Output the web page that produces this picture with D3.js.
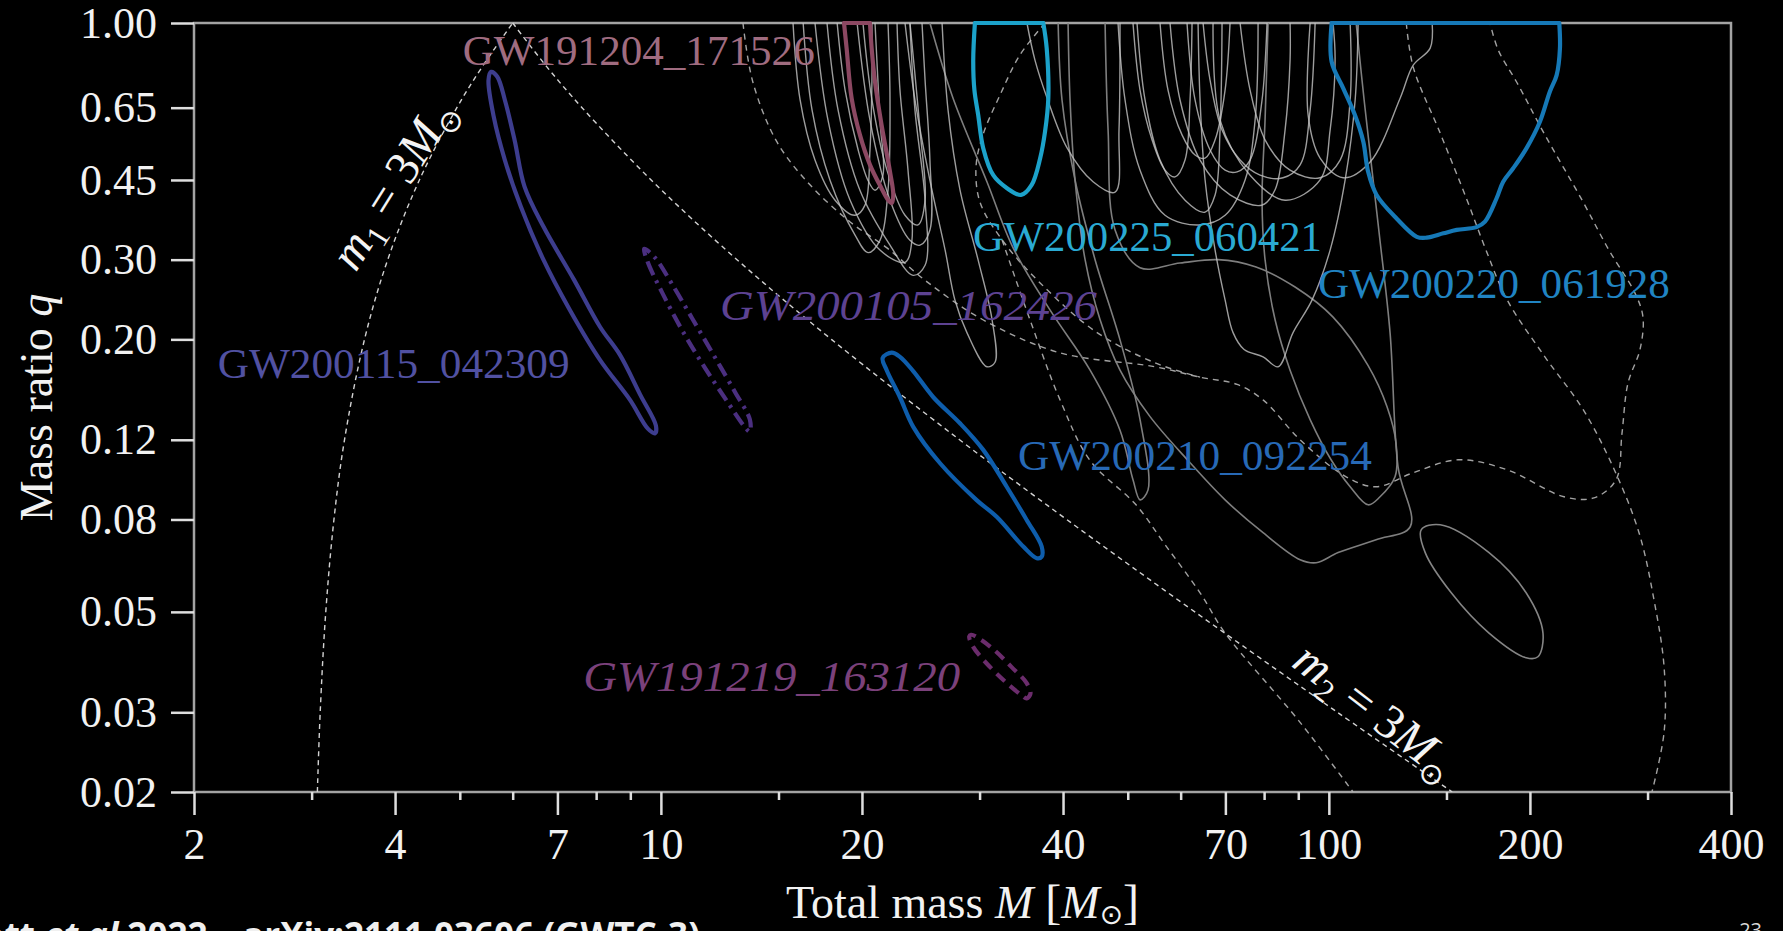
<!DOCTYPE html>
<html>
<head>
<meta charset="utf-8">
<script src="https://cdn.jsdelivr.net/npm/d3@7"></script>
<style>
  html, body { margin: 0; padding: 0; background: #000; overflow: hidden; }
  svg { display: block; }
</style>
</head>
<body>
<script>
const WIDTH = 1783, HEIGHT = 931;
const LEFT = 194, RIGHT = 1731, TOP = 23, BOTTOM = 792;
const SERIF = '"Liberation Serif", "DejaVu Serif", serif';

// axis ticks
const xTicks = [2, 4, 7, 10, 20, 40, 70, 100, 200, 400];
const xMinorTicks = [3, 5, 6, 8, 9, 15, 30, 50, 60, 80, 90, 150, 300];
const yTicks = [1.00, 0.65, 0.45, 0.30, 0.20, 0.12, 0.08, 0.05, 0.03, 0.02];

// m1 = 3 Msun and m2 = 3 Msun boundaries  [M, q]
const m1Line = [[3.06,0.02],[3.09,0.03],[3.15,0.05],[3.24,0.08],[3.36,0.12],[3.6,0.2],[3.9,0.3],[4.35,0.45],[4.95,0.65],[5.4,0.8],[6,1]];
const m2Line = [[6,1],[6.75,0.8],[7.62,0.65],[9.67,0.45],[13,0.3],[18,0.2],[28,0.12],[40.5,0.08],[63,0.05],[103,0.03],[153,0.02]];

// highlighted events, 90% contours  [M, q]
const gw200115 = [[5.57,0.780],[5.52,0.748],[5.62,0.621],[5.84,0.498],[6.17,0.393],[6.67,0.300],[7.31,0.232],[8.11,0.180],[8.99,0.147],[9.56,0.127],[9.80,0.124],[9.83,0.129],[9.31,0.151],[8.68,0.185],[8.11,0.213],[7.41,0.271],[6.67,0.355],[6.25,0.435],[6.04,0.551],[5.84,0.676],[5.69,0.761]];
const gw200105 = [[9.44,0.317],[9.56,0.296],[10.04,0.254],[10.75,0.210],[11.64,0.173],[12.60,0.145],[13.36,0.128],[13.59,0.125],[13.59,0.133],[12.91,0.153],[12.01,0.184],[11.13,0.223],[10.39,0.265],[9.80,0.303]];
const gw191219 = [[28.95,0.0441],[29.33,0.0419],[30.72,0.0385],[32.82,0.0350],[34.60,0.0328],[35.29,0.0322],[35.75,0.0330],[35.29,0.0348],[33.48,0.0378],[31.54,0.0412],[29.92,0.0437],[29.14,0.0445]];
const gw200210 = [[21.48,0.182],[21.78,0.171],[22.80,0.149],[23.88,0.128],[26.18,0.1065],[29.70,0.0883],[31.82,0.0811],[34.88,0.0697],[36.53,0.0657],[37.16,0.0662],[37.16,0.0697],[35.29,0.0798],[32.94,0.0945],[30.38,0.114],[28.04,0.1305],[25.58,0.149],[23.88,0.170],[22.80,0.183],[22.16,0.187]];
const gw191204 = [[18.80,1.0],[18.97,0.879],[19.30,0.682],[19.86,0.566],[20.56,0.486],[21.40,0.431],[21.90,0.406],[22.16,0.400],[22.28,0.417],[22.03,0.469],[21.40,0.595],[20.92,0.742],[20.68,0.879],[20.56,1.0]];
const gw200225 = [[29.52,1.0],[29.35,0.828],[29.47,0.711],[29.86,0.626],[30.38,0.529],[31.45,0.461],[32.94,0.432],[34.60,0.417],[35.90,0.439],[36.96,0.502],[37.59,0.575],[38.02,0.682],[37.81,0.879],[37.37,1.0]];
const gw200220 = [[100.97,1.0],[100.97,0.821],[105.1,0.717],[109.4,0.626],[112.6,0.547],[114.5,0.469],[117.9,0.417],[126.3,0.370],[135.4,0.337],[140.1,0.3355],[148.4,0.343],[155.4,0.349],[166.4,0.354],[171.3,0.364],[178.3,0.410],[182.4,0.446],[188.8,0.4775],[197.7,0.529],[207.0,0.605],[214.2,0.705],[219.3,0.767],[221.8,0.879],[221.3,1.0]];

// other GWTC-3 events (light grey, open at q = 1)
const greyLight = [
  [[15.77,1],[16.16,0.676],[17.01,0.498],[18.23,0.406],[19.53,0.376],[20.21,0.396],[20.56,0.524],[20.70,0.748],[20.70,1]],
  [[16.33,1],[16.84,0.642],[17.92,0.449],[19.53,0.340],[20.42,0.311],[21.28,0.331],[21.88,0.427],[22.03,0.676],[21.88,1]],
  [[17.01,1],[17.79,0.610],[19.20,0.406],[21.28,0.315],[23.20,0.296],[23.76,0.331],[23.44,0.473],[22.80,0.711],[22.57,1]],
  [[17.73,1],[18.42,0.642],[19.86,0.427],[22.03,0.323],[23.85,0.277],[24.86,0.2915],[24.86,0.406],[24.01,0.642],[23.60,1]],
  [[18.36,1],[18.87,0.711],[19.74,0.524],[20.42,0.449],[20.92,0.427],[21.50,0.461],[21.28,0.610],[20.92,1]],
  [[19.67,1],[20.56,0.610],[22.03,0.406],[23.60,0.331],[24.43,0.323],[25.28,0.349],[25.28,0.498],[24.86,0.748],[24.60,1]],
  [[20.07,1],[20.70,0.676],[21.80,0.473],[23.20,0.376],[24.26,0.358],[24.86,0.406],[24.43,0.580],[23.60,1]],
  [[23.20,1],[24.01,0.676],[25.28,0.449],[26.64,0.315],[27.56,0.244],[28.72,0.207],[30.77,0.174],[31.64,0.178],[31.32,0.221],[29.84,0.300],[28.04,0.428],[26.91,0.642],[26.36,1]],
  [[35.32,1],[36.31,0.828],[37.86,0.683],[40.56,0.530],[44.36,0.446],[47.86,0.423],[48.51,0.580],[48.68,1]],
  [[50.91,1],[52.16,0.711],[54.36,0.552],[56.85,0.473],[58.85,0.457],[60.91,0.498],[61.97,0.676],[62.40,1]],
  [[51.62,1],[53.07,0.676],[55.88,0.498],[60.91,0.406],[65.27,0.382],[67.56,0.417],[68.73,0.580],[69.20,1]],
  [[55.88,1],[57.44,0.711],[60.28,0.566],[63.05,0.511],[65.27,0.503],[67.56,0.552],[69.93,0.711],[71.14,1]],
  [[57.84,1],[59.87,0.676],[64.15,0.498],[71.14,0.417],[79.43,0.396],[83.08,0.428],[85.99,0.580],[87.49,0.828],[87.49,1]],
  [[61.33,1],[63.05,0.676],[66.40,0.524],[69.93,0.473],[72.88,0.469],[76.22,0.498],[79.43,0.676],[80.81,1]],
  [[64.82,1],[66.40,0.748],[69.20,0.580],[73.64,0.498],[78.89,0.461],[85.40,0.455],[90.57,0.486],[93.75,0.642],[95.38,1]],
  [[67.09,1],[68.73,0.610],[76.22,0.461],[85.99,0.406],[97.03,0.450],[100.44,0.580],[102.18,0.828],[101.47,1]],
  [[73.64,1],[76.22,0.711],[80.26,0.552],[87.49,0.473],[97.03,0.455],[103.97,0.498],[107.62,0.676],[107.62,1]],
  [[93.75,1],[93.11,0.626],[97.03,0.503],[105.05,0.455],[115.29,0.493],[127.9,0.683],[133.76,0.807],[141.81,0.880],[142.78,1]],
  [[48.35,1],[49.53,0.676],[52.16,0.473],[56.85,0.376],[64.15,0.358],[69.93,0.376],[74.92,0.450],[77.55,0.610],[78.35,1]],
  [[63.71,1],[64.15,0.676],[65.27,0.450],[67.56,0.315],[69.93,0.2445],[71.88,0.207],[74.66,0.190],[79.71,0.183],[83.94,0.174],[88.39,0.207],[94.39,0.2445],[100.44,0.315],[105.78,0.450],[109.49,0.676],[110.62,1]]
];

// other events reaching lower q (darker grey)
const greyDark = [
  [[25.28,1],[27.37,0.683],[30.77,0.446],[33.66,0.319],[38.26,0.232],[43.91,0.171],[48.68,0.126],[50.91,0.0979],[52.16,0.0884],[53.62,0.0930],[52.16,0.133],[48.68,0.1995],[44.67,0.300],[41.69,0.450],[39.86,0.676],[39.33,1]],
  [[40.70,1],[40.98,0.676],[41.69,0.450],[43.16,0.300],[45.45,0.221],[48.68,0.171],[53.99,0.135],[61.55,0.108],[69.93,0.0884],[79.71,0.0748],[90.57,0.0652],[95.71,0.0642],[103.24,0.0676],[117.70,0.0722],[132.39,0.0771],[126.94,0.1046],[123.49,0.207],[118.92,0.344],[112.93,0.676],[109.87,1]],
  [[46.24,1],[46.72,0.580],[47.86,0.349],[52.16,0.288],[59.87,0.295],[68.26,0.300],[77.81,0.289],[89.01,0.261],[101.47,0.224],[114.50,0.175],[122.21,0.142],[126.06,0.118],[125.62,0.0994],[119.3,0.0898],[114.50,0.0862],[107.62,0.0945],[100.78,0.1084],[93.75,0.133],[87.49,0.171],[83.08,0.221],[80.26,0.300],[79.43,0.4065],[80.26,0.6105],[81.10,1]]
];
const greyEllipse = [[137.48,0.0759],[146.8,0.0779],[173.7,0.0676],[197.4,0.0551],[209.2,0.0449],[205.6,0.0398],[197.4,0.0396],[173.7,0.0449],[152.5,0.0551],[139.4,0.0676]];

// events drawn dashed in the original (grey)
const greyDashed = [
  [[13.27,1],[13.73,0.7405],[14.92,0.546],[16.72,0.439],[19.20,0.3635],[21.80,0.3185],[25.03,0.268],[30.35,0.221],[39.45,0.187],[54.93,0.174],[64.15,0.165],[72.88,0.159],[79.71,0.147],[90.57,0.120],[106.14,0.0994],[117.70,0.0945],[133.76,0.1015],[156.2,0.1084],[184.9,0.103],[224.9,0.0898],[249.4,0.0893],[269.1,0.0979],[274.7,0.124],[280.4,0.160],[292.3,0.190],[295.3,0.224],[287.3,0.253],[262.6,0.315],[239.3,0.4065],[209.9,0.571],[191.4,0.737],[179.3,0.8715],[174.3,1]],
  [[37.60,1],[34.48,0.850],[32.19,0.693],[30.35,0.566],[29.64,0.483],[30.04,0.402],[32.41,0.332],[36.96,0.2665],[44.98,0.207],[54.93,0.1775],[64.15,0.165]],
  [[130.6,1],[133.76,0.799],[146.8,0.571],[161.0,0.4065],[171.9,0.315],[184.9,0.2445],[210.6,0.183],[240.2,0.140],[266.3,0.1046],[291.3,0.0748],[306.7,0.0532],[317.6,0.0378],[317.6,0.0271],[304.6,0.02]],
  [[32.41,0.332],[35.69,0.221],[39.59,0.147],[43.91,0.108],[51.44,0.0862],[56.85,0.0704],[64.15,0.0551],[69.93,0.0449],[90.57,0.0285],[108.7,0.02]]
];

// event labels, anchored at the start of the text  [name, M, q]
const labelNames = ["GW191204_171526", "GW200115_042309", "GW200105_162426", "GW200225_060421", "GW200220_061928", "GW200210_092254", "GW191219_163120"];
const labelM = [5.05, 2.17, 12.26, 29.32, 96.3, 34.24, 7.65];
const labelQ = [0.808, 0.1643, 0.2208, 0.3135, 0.2469, 0.1029, 0.0334];

const svg = d3.select('body').append('svg')
  .attr('width', WIDTH).attr('height', HEIGHT)
  .style('background', '#000');

const x = d3.scaleLog().domain([2, 400]).range([LEFT, RIGHT]);
const y = d3.scaleLog().domain([0.02, 1]).range([BOTTOM, TOP]);

svg.append('clipPath').attr('id', 'plotclip')
  .append('rect').attr('x', LEFT).attr('y', TOP - 2)
  .attr('width', RIGHT - LEFT).attr('height', BOTTOM - TOP + 2);

// frame
svg.append('rect')
  .attr('x', LEFT).attr('y', TOP).attr('width', RIGHT - LEFT).attr('height', BOTTOM - TOP)
  .attr('fill', 'none').attr('stroke', '#a3a3a3').attr('stroke-width', 2.5);

// axes
var styleAxis = function(g) {
  g.select('.domain').remove();
  g.selectAll('.tick line').attr('stroke', '#dedede').attr('stroke-width', 2.5);
  g.selectAll('.tick text').attr('fill', '#f2f2f2')
    .style('font-family', SERIF).style('font-size', '44px');
};

svg.append('g').attr('transform', 'translate(0,' + BOTTOM + ')')
  .call(d3.axisBottom(x).tickValues(xMinorTicks).tickSize(8).tickFormat(''))
  .call(styleAxis);
svg.append('g').attr('transform', 'translate(0,' + BOTTOM + ')')
  .call(d3.axisBottom(x).tickValues(xTicks).tickSize(23).tickPadding(13).tickFormat(d3.format('d')))
  .call(styleAxis);
svg.append('g').attr('transform', 'translate(' + LEFT + ',0)')
  .call(d3.axisLeft(y).tickValues(yTicks).tickSize(23).tickPadding(14).tickFormat(d3.format('.2f')))
  .call(styleAxis);

// contours
const plot = svg.append('g').attr('clip-path', 'url(#plotclip)');
const openLine = d3.line().x(d => x(d[0])).y(d => y(d[1])).curve(d3.curveCatmullRom.alpha(0.5));
const closedLine = d3.line().x(d => x(d[0])).y(d => y(d[1])).curve(d3.curveCatmullRomClosed.alpha(0.5));

var drawSet = function(set, color, width, dash, opacity) {
  plot.append('g').selectAll('path').data(set).enter().append('path')
    .attr('d', d => openLine(d))
    .attr('fill', 'none').attr('stroke', color).attr('stroke-width', width)
    .attr('stroke-dasharray', dash).attr('opacity', opacity);
};

drawSet(greyDashed, '#b4b4b4', 1.4, '6,5', 0.9);
drawSet(greyDark, '#858585', 1.6, null, 0.95);
drawSet(greyLight, '#c4c4c4', 1.4, null, 0.8);
plot.append('path').attr('d', closedLine(greyEllipse))
  .attr('fill', 'none').attr('stroke', '#858585').attr('stroke-width', 1.6);

drawSet([m1Line, m2Line], '#d2d2d2', 1.4, '5,4', 1);

var drawEvent = function(pts, color, dash, touchesTop) {
  plot.append('path')
    .attr('d', touchesTop ? openLine(pts) + 'Z' : closedLine(pts))
    .attr('fill', 'none').attr('stroke', color).attr('stroke-width', 4.2)
    .attr('stroke-linejoin', 'round')
    .attr('stroke-dasharray', dash);
};

drawEvent(gw200115, '#3d3d8e', null, false);
drawEvent(gw200105, '#4b2f80', '14,6,3,6', false);
drawEvent(gw191219, '#6b2c6c', '11,7', false);
drawEvent(gw200210, '#0e5dab', null, false);
drawEvent(gw191204, '#8c4862', null, true);
drawEvent(gw200225, '#1ca2ca', null, true);
drawEvent(gw200220, '#1679b7', null, true);

// event labels
const labelColor = ['#a06c80', '#5151a2', '#5d4292', '#2aaad3', '#2084c3', '#2769b6', '#7b417b'];
const labelItalic = [false, false, true, false, false, false, true];
const labelWidth = [352, 352, 377, 349, 352, 354, 377];

svg.append('g').selectAll('text').data(labelNames).enter().append('text')
  .attr('x', (d, i) => x(labelM[i]))
  .attr('y', (d, i) => y(labelQ[i]))
  .attr('fill', (d, i) => labelColor[i])
  .attr('font-style', (d, i) => labelItalic[i] ? 'italic' : 'normal')
  .attr('textLength', (d, i) => labelWidth[i])
  .attr('lengthAdjust', 'spacingAndGlyphs')
  .style('font-family', SERIF).style('font-size', '43px')
  .text(d => d);

// rotated m1 / m2 labels
var massLabel = function(M, q, angle, sub) {
  const t = svg.append('text')
    .attr('transform', 'translate(' + x(M) + ',' + y(q) + ') rotate(' + angle + ')')
    .attr('text-anchor', 'middle').attr('dy', '0.35em')
    .attr('fill', '#f4f4f4')
    .style('font-family', SERIF).style('font-size', '48px');
  t.append('tspan').attr('font-style', 'italic').text('m');
  t.append('tspan').attr('font-size', '32px').attr('dy', 10).text(sub);
  t.append('tspan').attr('dy', -10).text(' = 3');
  t.append('tspan').attr('font-style', 'italic').text('M');
  t.append('tspan').attr('font-size', '30px').attr('dy', 10).style('font-family', '"DejaVu Sans", sans-serif').text('\u2299');
};
massLabel(3.96, 0.443, -58, '1');
massLabel(117.7, 0.0303, 37.5, '2');

// axis titles
const yTitle = svg.append('text')
  .attr('transform', 'translate(52,' + ((TOP + BOTTOM) / 2) + ') rotate(-90)')
  .attr('text-anchor', 'middle').attr('fill', '#f2f2f2')
  .style('font-family', SERIF).style('font-size', '46px');
yTitle.append('tspan').text('Mass ratio ');
yTitle.append('tspan').attr('font-style', 'italic').text('q');

const xTitle = svg.append('text')
  .attr('x', (LEFT + RIGHT) / 2).attr('y', 918)
  .attr('text-anchor', 'middle').attr('fill', '#f2f2f2')
  .style('font-family', SERIF).style('font-size', '46px');
xTitle.append('tspan').text('Total mass ');
xTitle.append('tspan').attr('font-style', 'italic').text('M');
xTitle.append('tspan').attr('font-size', '48px').text(' [');
xTitle.append('tspan').attr('font-style', 'italic').text('M');
xTitle.append('tspan').attr('font-size', '28px').attr('dy', 6).style('font-family', '"DejaVu Sans", sans-serif').text('\u2299');
xTitle.append('tspan').attr('font-size', '48px').attr('dy', -6).text(']');

// slide footer
const footer = svg.append('text')
  .attr('x', 700).attr('y', 948).attr('text-anchor', 'end')
  .attr('fill', '#f0f0f0').attr('font-weight', 'bold')
  .style('font-family', '"Open Sans", "Noto Sans", sans-serif').style('font-size', '35px');
footer.append('tspan').text('Abbott ');
footer.append('tspan').attr('font-style', 'italic').text('et al');
footer.append('tspan').text(' 2022 \u2013 arXiv:2111.03606 (GWTC-3)');

svg.append('text')
  .attr('x', 1762).attr('y', 937).attr('text-anchor', 'end')
  .attr('fill', '#d8d8d8')
  .style('font-family', '"Open Sans", sans-serif').style('font-size', '20px')
  .text('23');
</script>
</body>
</html>
